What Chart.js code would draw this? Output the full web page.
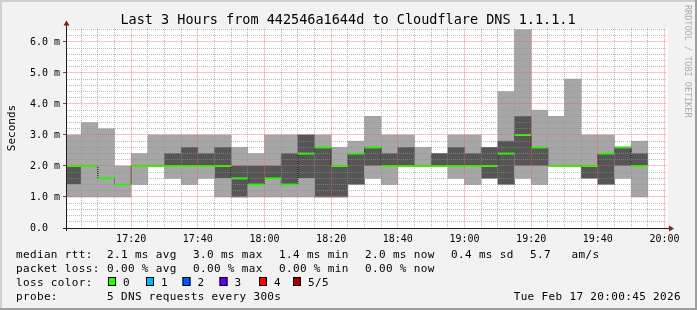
<!DOCTYPE html>
<html>
<head>
<meta charset="utf-8">
<title>Last 3 Hours from 442546a1644d to Cloudflare DNS 1.1.1.1</title>
<script src="https://cdn.jsdelivr.net/npm/chart.js@4.4.1/dist/chart.umd.min.js"></script>
<style>
  html, body { margin: 0; padding: 0; background: #f2f2f2; }
  #wrap { width: 697px; height: 310px; }
</style>
</head>
<body>
<div id="wrap"><canvas id="rtt" width="697" height="310"></canvas></div>
<script>
// time window of the graph
const rangeStart = '17:00:45';
const rangeEnd = '20:00:45';

// start of every 5 minute bin
const binStarts = ['17:00','17:05','17:10','17:15','17:20','17:25','17:30','17:35','17:40','17:45',
                   '17:50','17:55','18:00','18:05','18:10','18:15','18:20','18:25','18:30','18:35',
                   '18:40','18:45','18:50','18:55','19:00','19:05','19:10','19:15','19:20','19:25',
                   '19:30','19:35','19:40','19:45','19:50'];

// the 5 pings of each bin, sorted low -> high (ms). ping3 is the median
const ping1 = [1.0,1.0,1.0,1.0,1.4,2.0,1.6,1.4,1.6,1.0,1.0,1.0,1.0,1.0,1.0,1.0,1.0,1.4,1.6,1.4,
               2.0,2.0,2.0,1.6,1.4,1.6,1.4,1.6,1.4,2.0,2.0,1.6,1.4,1.6,1.0];
const ping2 = [1.4,2.0,1.6,1.4,2.0,2.0,2.0,2.0,2.0,1.6,1.0,1.4,1.6,1.4,1.6,1.0,1.0,1.4,2.0,2.0,
               2.0,2.0,2.0,2.0,2.0,1.6,1.4,2.0,2.0,2.0,2.0,1.6,1.4,2.0,2.0];
const ping3 = [2.0,2.0,1.6,1.4,2.0,2.0,2.0,2.0,2.0,2.0,1.6,1.4,1.6,1.4,2.4,2.6,2.0,2.4,2.6,2.0,
               2.0,2.0,2.0,2.0,2.0,2.0,2.4,3.0,2.6,2.0,2.0,2.0,2.4,2.6,2.0];
const ping4 = [2.0,2.0,1.6,1.4,2.0,2.0,2.4,2.6,2.4,2.6,2.0,2.0,2.0,2.4,3.0,2.6,2.0,2.4,2.6,2.4,
               2.6,2.0,2.4,2.6,2.4,2.6,2.8,3.6,2.6,2.0,2.0,2.0,2.4,2.6,2.4];
const ping5 = [3.0,3.4,3.2,2.0,2.4,3.0,3.0,3.0,3.0,3.0,2.6,2.4,3.0,3.0,3.0,3.0,2.6,2.8,3.6,3.0,
               3.0,2.6,2.4,3.0,3.0,2.6,4.4,6.4,3.8,3.6,4.8,3.0,3.0,2.6,2.8];

// axis labels
const xTickLabels = ['17:20','17:40','18:00','18:20','18:40','19:00','19:20','19:40','20:00'];
const yTickLabels = ['0.0  ','1.0 m','2.0 m','3.0 m','4.0 m','5.0 m','6.0 m'];
const yMax = 6.45;

// legend lines under the graph
const rttLegend = [['median rtt:', 16], ['2.1 ms avg', 107], ['3.0 ms max', 193], ['1.4 ms min', 279],
                   ['2.0 ms now', 365], ['0.4 ms sd', 451], ['5.7', 530], ['am/s', 571.5]];
const lossLegend = [['packet loss:', 16], ['0.00 % avg', 107], ['0.00 % max', 193],
                    ['0.00 % min', 279], ['0.00 % now', 365]];
const lossColors = [['0', '#26ff00'], ['1', '#00b8ff'], ['2', '#0059ff'],
                    ['3', '#5e00ff'], ['4', '#ff0000'], ['5/5', '#a10000']];
const lossColorX = [108, 146, 182.5, 219.5, 259, 293];
const probeText = '5 DNS requests every 300s';
const stampText = 'Tue Feb 17 20:00:45 2026';

// minutes since 17:00
function toMin(t) {
  const p = t.split(':').map(Number);
  return (p[0] - 17) * 60 + p[1] + (p[2] || 0) / 60;
}

const SMOKE_LIGHT = '#a6a6a6';
const SMOKE_DARK = '#565656';
const MEDIAN = '#26ff00';
const MONO = "'DejaVu Sans Mono', monospace";

const mid = t => toMin(t) + 2.5;
const band = (lo, hi) => binStarts.map((t, i) => ({ x: mid(t), y: [lo[i], hi[i]] }));
const medianPts = binStarts.map((t, i) => ({ x: mid(t), y: ping3[i] }));

// grid every 5 min / 0.2 ms, red major lines every 20 min / 1 ms
const xGrid = [];
for (let m = 5; m <= toMin(rangeEnd); m += 5) xGrid.push(m);
const yGrid = [];
for (let k = 0; k * 0.2 <= yMax; k++) yGrid.push(Math.round(k * 2) / 10);

const isMajorX = v => Math.round(v) % 20 === 0;
const isMajorY = v => Math.abs(v - Math.round(v)) < 1e-6;
const MINOR = 'rgba(143,143,143,0.6)';
const MAJOR = 'rgba(240,90,90,0.35)';

const smokeBar = {
  type: 'bar', grouped: false, barPercentage: 1, categoryPercentage: 1,
  borderWidth: 0, order: 3, clip: 0
};

// rrdtool style grid, snapped to whole pixels, over the smoke
const gridLines = {
  id: 'gridLines',
  afterDatasetsDraw(chart) {
    const { ctx, chartArea: a, scales: { x, y } } = chart;
    const crisp = p => Math.round(p - 0.5) + 0.5;
    ctx.save();
    ctx.lineWidth = 1;
    [false, true].forEach(major => {
      ctx.strokeStyle = major ? MAJOR : MINOR;
      ctx.setLineDash(major ? [] : [1, 1]);
      xGrid.filter(v => isMajorX(v) === major).forEach(v => {
        const px = crisp(x.getPixelForValue(v));
        ctx.beginPath();
        ctx.moveTo(px, a.top);
        ctx.lineTo(px, a.bottom);
        ctx.stroke();
      });
      yGrid.filter(v => v > 0 && isMajorY(v) === major).forEach(v => {
        const py = crisp(y.getPixelForValue(v));
        ctx.beginPath();
        ctx.moveTo(a.left, py);
        ctx.lineTo(a.right, py);
        ctx.stroke();
      });
    });
    ctx.restore();
  }
};

const frame = {
  id: 'frame',
  beforeDraw(chart) {
    const { ctx, width, height, chartArea: a } = chart;
    ctx.save();
    ctx.fillStyle = '#f2f2f2';
    ctx.fillRect(0, 0, width, height);
    ctx.fillStyle = '#cfcfcf';
    ctx.fillRect(0, 0, width, 2);
    ctx.fillRect(0, 0, 2, height);
    ctx.fillStyle = '#9e9e9e';
    ctx.fillRect(0, height - 2, width, 2);
    ctx.fillRect(width - 2, 0, 2, height);
    ctx.fillStyle = '#ffffff';
    ctx.fillRect(a.left, a.top, a.right - a.left + 1, a.bottom - a.top);
    ctx.restore();
  },
  afterDraw(chart) {
    const { ctx, chartArea: a } = chart;
    ctx.save();
    // axes
    ctx.strokeStyle = '#1f1f1f';
    ctx.lineWidth = 1;
    ctx.beginPath();
    ctx.moveTo(a.left - 4, a.bottom + 0.5);
    ctx.lineTo(a.right + 3, a.bottom + 0.5);
    ctx.moveTo(a.left - 0.5, a.bottom + 3);
    ctx.lineTo(a.left - 0.5, a.top - 4);
    ctx.stroke();
    // arrow heads
    ctx.fillStyle = '#801f1f';
    ctx.beginPath();
    ctx.moveTo(a.right + 2, a.bottom - 2.5);
    ctx.lineTo(a.right + 7, a.bottom + 0.5);
    ctx.lineTo(a.right + 2, a.bottom + 3.5);
    ctx.fill();
    ctx.beginPath();
    ctx.moveTo(a.left - 3.5, a.top - 2.5);
    ctx.lineTo(a.left - 0.5, a.top - 7.5);
    ctx.lineTo(a.left + 2.5, a.top - 2.5);
    ctx.fill();

    // title
    ctx.fillStyle = '#000';
    ctx.font = '13.5px ' + MONO;
    ctx.textAlign = 'center';
    ctx.textBaseline = 'alphabetic';
    ctx.fillText('Last 3 Hours from 442546a1644d to Cloudflare DNS 1.1.1.1', 348, 24);

    // unit label
    ctx.save();
    ctx.translate(15, (a.top + a.bottom) / 2);
    ctx.rotate(-Math.PI / 2);
    ctx.font = '11px ' + MONO;
    ctx.fillText('Seconds', 0, 0);
    ctx.restore();

    // watermark
    ctx.save();
    ctx.translate(684.5, 5);
    ctx.rotate(Math.PI / 2);
    ctx.textAlign = 'left';
    ctx.font = '8.5px ' + MONO;
    ctx.fillStyle = '#acacac';
    ctx.fillText('RRDTOOL / TOBI OETIKER', 0, 0);
    ctx.restore();

    // legend
    ctx.font = '11px ' + MONO;
    ctx.letterSpacing = '0.35px';
    ctx.textAlign = 'left';
    ctx.fillStyle = '#000';
    rttLegend.forEach(([t, x]) => ctx.fillText(t, x, 258));
    lossLegend.forEach(([t, x]) => ctx.fillText(t, x, 272));
    ctx.fillText('loss color:', 16, 286);
    lossColors.forEach(([t, c], i) => {
      const bx = lossColorX[i];
      ctx.fillStyle = c;
      ctx.fillRect(bx, 277, 8, 9);
      ctx.strokeStyle = '#000';
      ctx.strokeRect(bx + 0.5, 277.5, 7, 8);
      ctx.fillStyle = '#000';
      ctx.fillText(t, bx + 15, 286);
    });
    ctx.fillText('probe:', 16, 299.5);
    ctx.fillText(probeText, 107, 299.5);
    ctx.textAlign = 'right';
    ctx.fillText(stampText, 681, 299.5);
    ctx.restore();
  }
};

new Chart(document.getElementById('rtt'), {
  type: 'bar',
  data: {
    datasets: [
      { ...smokeBar, data: band(ping1, ping2), backgroundColor: SMOKE_LIGHT },
      { ...smokeBar, data: band(ping2, ping4), backgroundColor: SMOKE_DARK },
      { ...smokeBar, data: band(ping4, ping5), backgroundColor: SMOKE_LIGHT },
      {
        type: 'line', data: medianPts, stepped: 'middle', borderColor: '#000',
        borderWidth: 1, borderDash: [1, 1], pointRadius: 0, order: 2, clip: 0
      },
      {
        type: 'line', data: medianPts, showLine: false, pointStyle: 'line',
        pointRadius: ctx => {
          const s = ctx.chart.scales.x;
          return (s.getPixelForValue(5) - s.getPixelForValue(0)) / 2;
        },
        pointBorderColor: MEDIAN, pointBorderWidth: 2, order: 1, clip: 0
      }
    ]
  },
  options: {
    responsive: false,
    animation: false,
    events: [],
    layout: { autoPadding: false, padding: { left: 0, top: 28, right: 30, bottom: 0 } },
    plugins: { legend: { display: false }, tooltip: { enabled: false } },
    scales: {
      x: {
        type: 'linear', min: toMin(rangeStart), max: toMin(rangeEnd), offset: false, bounds: 'data',
        afterBuildTicks: s => { s.ticks = xGrid.map(v => ({ value: v })); },
        afterFit: s => { s.height = 82; s.paddingLeft = 0; s.paddingRight = 0; },
        grid: {
          drawOnChartArea: false, offset: false, tickLength: 3,
          color: 'rgba(0,0,0,0)', tickColor: 'rgba(0,0,0,0)'
        },
        border: { display: false },
        ticks: {
          autoSkip: false, maxRotation: 0, padding: 2, color: '#000',
          font: { family: MONO, size: 10 },
          callback: v => {
            const hit = xTickLabels.find(l => toMin(l) === v);
            return hit || '';
          }
        }
      },
      y: {
        type: 'linear', min: 0, max: yMax, bounds: 'data',
        afterBuildTicks: s => { s.ticks = yGrid.map(v => ({ value: v })); },
        afterFit: s => { s.width = 67; s.paddingTop = 0; s.paddingBottom = 0; },
        grid: {
          drawOnChartArea: false, tickLength: 4, color: 'rgba(0,0,0,0)',
          tickColor: c => isMajorY(c.tick.value) ? '#555' : 'rgba(0,0,0,0)'
        },
        border: { display: false },
        ticks: {
          autoSkip: false, padding: 3, color: '#000',
          font: { family: MONO, size: 10 },
          callback: v => isMajorY(v) ? yTickLabels[Math.round(v)] : ''
        }
      }
    }
  },
  plugins: [gridLines, frame]
});
</script>
</body>
</html>
